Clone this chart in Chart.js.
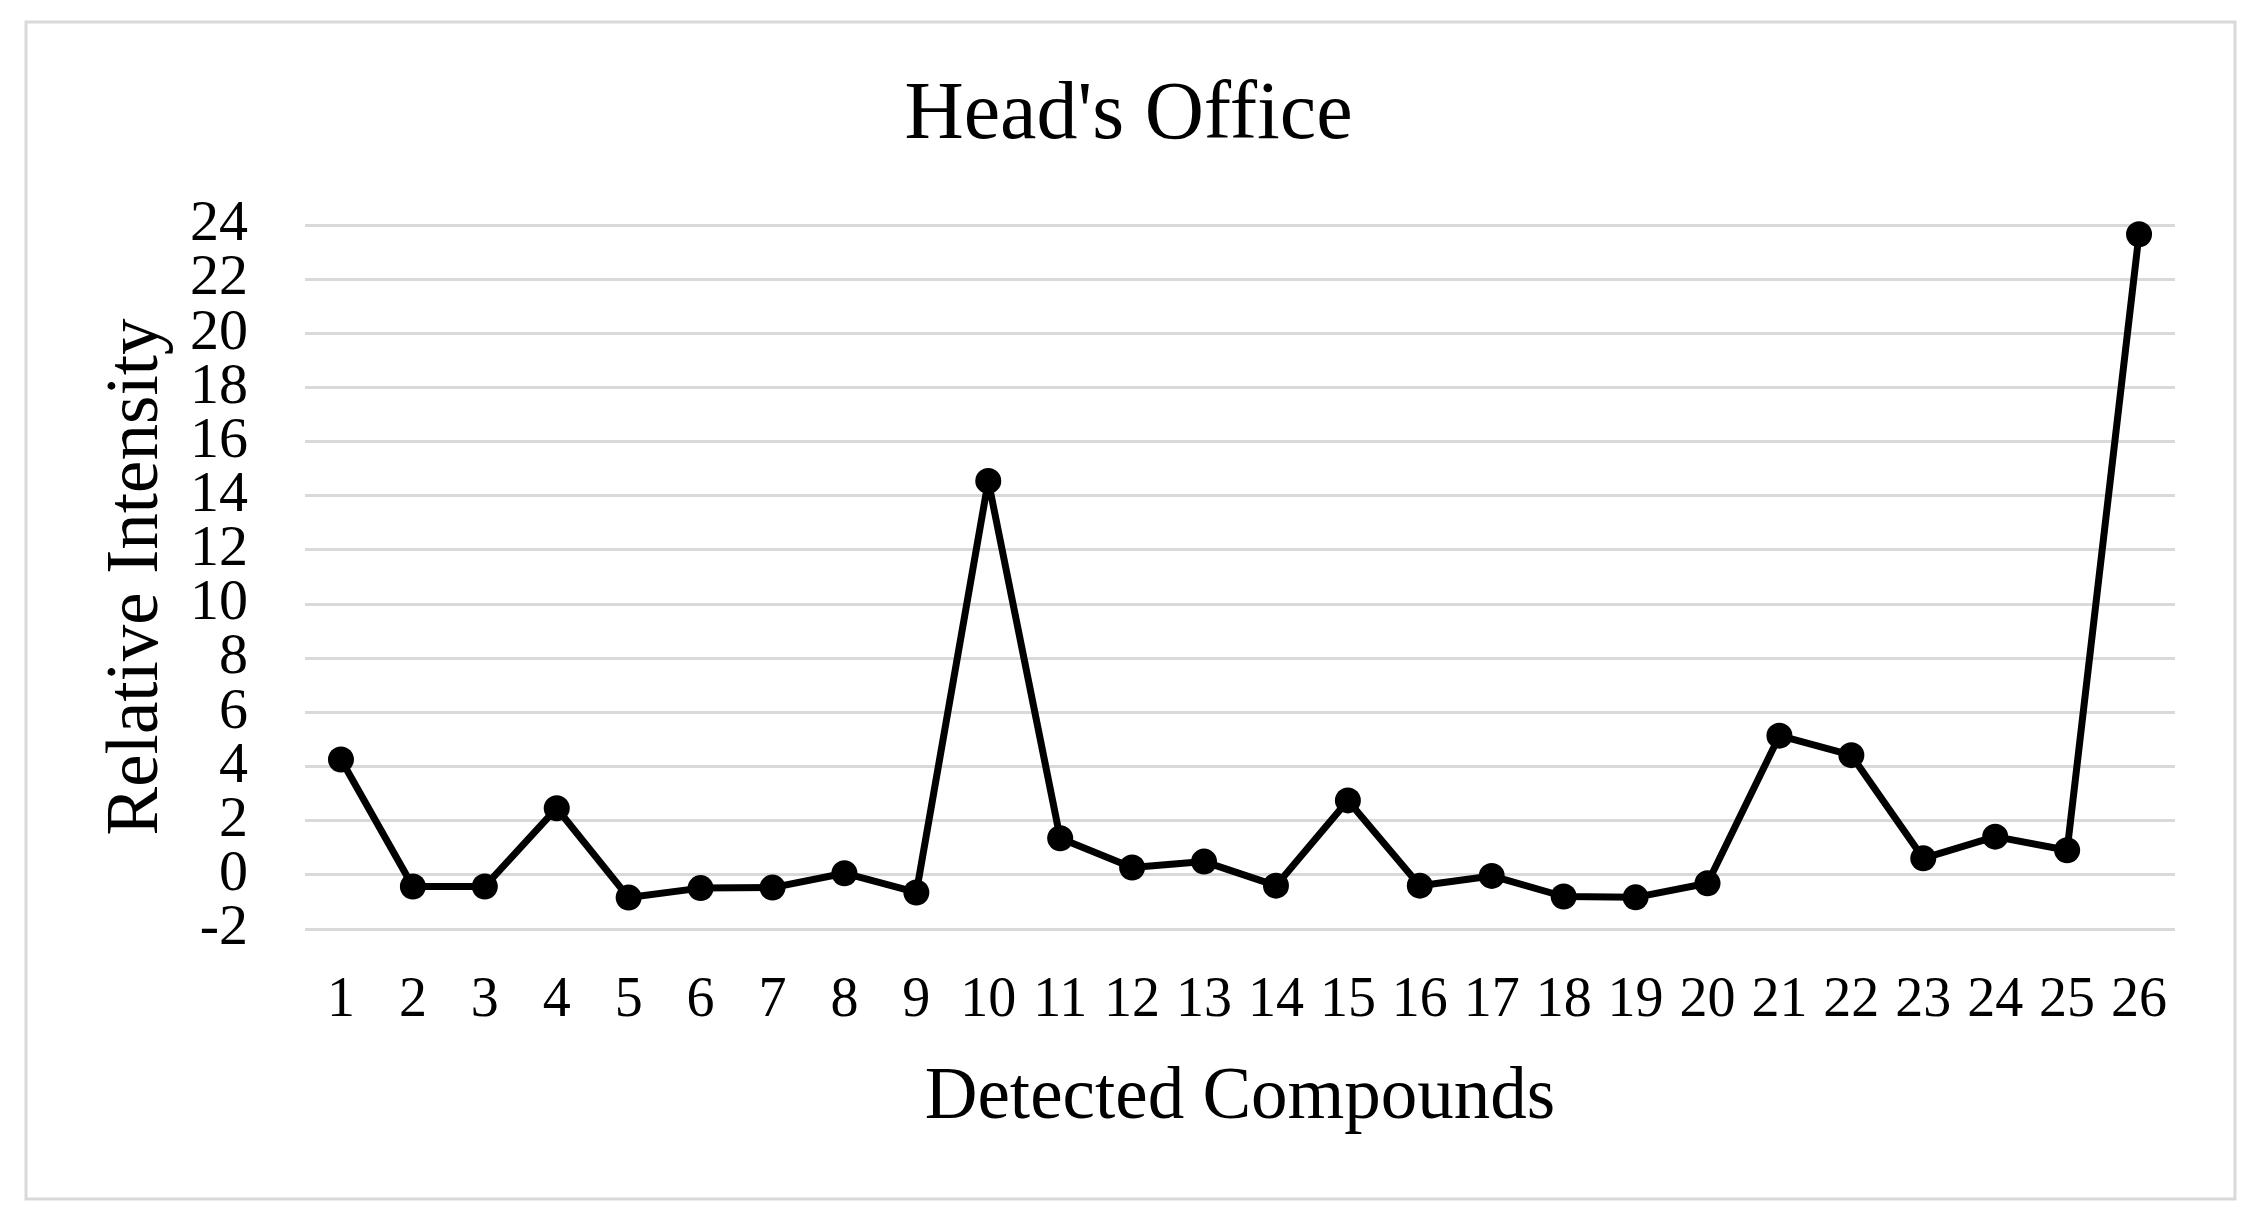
<!DOCTYPE html>
<html lang="en">
<head>
  <meta charset="UTF-8">
  <title>Head's Office</title>
  <script src="https://cdn.jsdelivr.net/npm/chart.js"></script>
  <style>
    body { margin: 0; background: #fff; }
    canvas { display: block; }
  </style>
</head>
<body>
  <canvas id="myChart" width="2259" height="1222"></canvas>

  <script>
    const compounds = ['1', '2', '3', '4', '5', '6', '7', '8', '9', '10', '11', '12', '13',
                       '14', '15', '16', '17', '18', '19', '20', '21', '22', '23', '24', '25', '26'];
    const intensity = [4.26, -0.43, -0.43, 2.46, -0.84, -0.49, -0.47, 0.06, -0.65, 14.55,
                       1.35, 0.27, 0.49, -0.40, 2.75, -0.40, -0.04, -0.80, -0.83, -0.31,
                       5.14, 4.42, 0.61, 1.41, 0.91, 23.66];
    const yMin = -2;
    const yMax = 24;
    const yStep = 2;

    const serif = '"Liberation Serif", "Times New Roman", serif';

    // white page with the thin grey frame round the whole chart
    const framePlugin = {
      id: 'frame',
      beforeDraw(chart) {
        const c = chart.ctx;
        c.save();
        c.fillStyle = '#fff';
        c.fillRect(0, 0, chart.width, chart.height);
        c.strokeStyle = '#d9d9d9';
        c.lineWidth = 3;
        c.strokeRect(26, 22, chart.width - 50, chart.height - 45);
        c.restore();
      }
    };

    const ctx = document.getElementById('myChart').getContext('2d');
    const chart = new Chart(ctx, {
      type: 'line',
      data: {
        labels: compounds,
        datasets: [{
          label: "Head's Office",
          data: intensity,
          borderColor: '#000',
          backgroundColor: '#000',
          borderWidth: 7,
          borderJoinStyle: 'round',
          tension: 0,
          clip: false,
          pointRadius: 13,
          pointBorderWidth: 0,
          pointBackgroundColor: '#000'
        }]
      },
      options: {
        responsive: false,
        animation: false,
        devicePixelRatio: 1,
        layout: { padding: { left: 82, right: 84, top: 0, bottom: 0 } },
        plugins: {
          legend: { display: false },
          tooltip: { enabled: false },
          title: {
            display: true,
            text: "Head's Office",
            color: '#000',
            font: { family: serif, size: 82, weight: 'normal', lineHeight: 1 },
            padding: { top: 75, bottom: 68 }
          }
        },
        scales: {
          x: {
            offset: true,
            border: { display: false },
            grid: { display: false, drawTicks: false },
            ticks: {
              color: '#000',
              padding: 39,
              maxRotation: 0,
              autoSkip: false,
              font: { family: serif, size: 56 }
            },
            title: {
              display: true,
              text: 'Detected Compounds',
              color: '#000',
              font: { family: serif, size: 73, lineHeight: 1 },
              padding: { top: 0, bottom: 87 }
            },
            afterFit(scale) { scale.height = 293; }
          },
          y: {
            min: yMin,
            max: yMax,
            border: { display: false },
            grid: { color: '#d9d9d9', lineWidth: 3, drawTicks: false },
            ticks: {
              stepSize: yStep,
              autoSkip: false,
              color: '#000',
              padding: 57,
              font: { family: serif, size: 58 }
            },
            title: {
              display: true,
              text: 'Relative Intensity',
              color: '#000',
              font: { family: serif, size: 73, lineHeight: 1 },
              padding: { top: 19, bottom: 0 }
            },
            afterFit(scale) { scale.width = 223; }
          }
        }
      },
      plugins: [framePlugin]
    });
  </script>
</body>
</html>
